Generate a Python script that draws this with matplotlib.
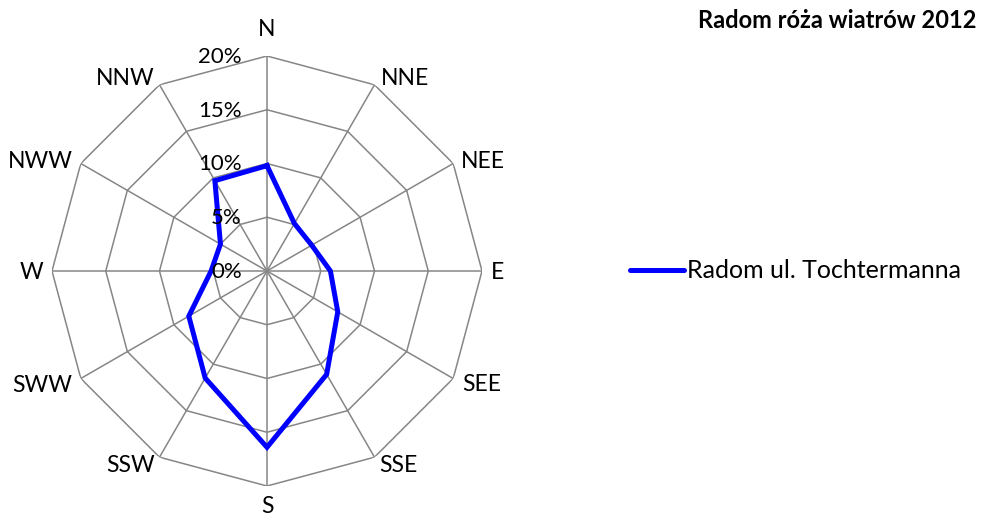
import numpy as np
import matplotlib
matplotlib.use("Agg")
import matplotlib.pyplot as plt
from matplotlib.lines import Line2D

plt.rcParams['font.family'] = ['Lato', 'DejaVu Sans']

directions = ["N", "NNE", "NEE", "E", "SEE", "SSE", "S", "SSW", "SWW", "W", "NWW", "NNW"]
values = [9.8, 5.1, 4.8, 5.9, 7.6, 11.1, 16.4, 11.5, 8.4, 5.2, 5.0, 9.7]
ring_levels = [5, 10, 15, 20]
ring_labels = ["0%", "5%", "10%", "15%", "20%"]
series_name = "Radom ul. Tochtermanna"
title = "Radom róża wiatrów 2012"

W, H = 983, 519
fig = plt.figure(figsize=(W / 100, H / 100), dpi=100)
cx, cy, R = 267, 271, 215
ax = fig.add_axes([(cx - R) / W, (H - cy - R) / H, 2 * R / W, 2 * R / H], projection='polar')
ax.set_theta_zero_location('N')
ax.set_theta_direction(-1)
ax.set_ylim(0, 20)
ax.grid(False)
ax.spines['polar'].set_visible(False)
ax.set_xticks([])
ax.set_yticks([])
ax.patch.set_visible(False)

n = len(directions)
theta = np.arange(n) * 2 * np.pi / n
theta_closed = np.append(theta, theta[0])
grid_color = '#868686'

for lv in ring_levels:
    ax.plot(theta_closed, [lv] * (n + 1), color=grid_color, lw=1.1, zorder=1)
for t in theta:
    ax.plot([t, t], [0, 20], color=grid_color, lw=1.1, zorder=1)

vals_closed = values + [values[0]]
line, = ax.plot(theta_closed, vals_closed, color='#0000FF', lw=3.6, zorder=3,
                solid_joinstyle='miter', label=series_name)

PX = 0.72  # points per pixel at dpi 100
# per-direction label placement: (ha, dx px, dy px relative to outer vertex, baseline)
placement = {
    "N": ('center', 0, 20), "NNE": ('left', 6, 0), "NEE": ('left', 8, -4),
    "E": ('left', 9, -8), "SEE": ('left', 9, -13), "SSE": ('left', 5, -15),
    "S": ('center', 0, -27), "SSW": ('right', -5, -15), "SWW": ('right', -9, -13),
    "W": ('right', -9, -8), "NWW": ('right', -8, -4), "NNW": ('right', -5, 0),
}
for t, d in zip(theta, directions):
    ha, dx, dy = placement[d]
    ax.annotate(d, xy=(t, 20), xytext=(dx * PX, dy * PX), textcoords='offset points',
                ha=ha, va='baseline', fontsize=16.5, color='#000000')

for i, lab in enumerate(ring_labels):
    r = i * 5
    ax.annotate(lab, xy=(0, r), xytext=(-25 * PX, -7 * PX), textcoords='offset points',
                ha='right', va='baseline', fontsize=16, color='#000000', zorder=4)

handle = Line2D([], [], color='#0000FF', lw=3.6, solid_capstyle='round')
fig.legend(handles=[handle], labels=[series_name], loc='center left',
           bbox_to_anchor=(630 / W, 1 - 271 / H), frameon=False, fontsize=18,
           handlelength=2.15, handletextpad=0.12, borderpad=0, borderaxespad=0)

fig.text(976 / W, 1 - 28 / H, title, ha='right', va='baseline', fontsize=17,
         fontweight='bold', color='#000000')

fig.savefig('out.png', dpi=100)
